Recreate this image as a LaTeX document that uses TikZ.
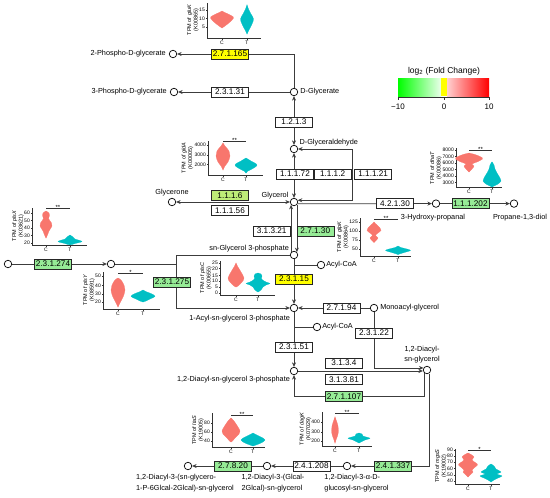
\documentclass[tikz,border=0pt]{standalone}
\usepackage{fontspec}
\setmainfont{Liberation Sans}
\usetikzlibrary{arrows.meta}
\usetikzlibrary{positioning}

\definecolor{cred}{RGB}{248,118,109}
\definecolor{cteal}{RGB}{0,191,196}
\definecolor{ecgreen}{RGB}{150,235,150}
\definecolor{ecygreen}{RGB}{190,235,120}
\definecolor{ecyellow}{RGB}{255,255,0}
\definecolor{linegray}{RGB}{60,60,60}

\tikzset{
  met/.style={circle, draw=black, fill=white, line width=0.7pt, inner sep=0pt, minimum size=7.5pt},
  ec/.style={draw=black!85, fill=white, line width=0.6pt, font=\fontsize{8.2}{9}\selectfont,
    minimum width=37pt, minimum height=10pt, inner sep=0.5pt},
  lbl/.style={font=\fontsize{7.3}{8}\selectfont, inner sep=0pt},
  conn/.style={draw=linegray, line width=0.75pt},
  arr/.style={conn, -{Stealth[length=4.5pt,width=4pt]}},
  both/.style={conn, {Stealth[length=4.5pt,width=4pt]}-{Stealth[length=4.5pt,width=4pt]}},
  axisline/.style={draw=black!80, line width=0.4pt},
  tick/.style={font=\fontsize{5}{6}\selectfont, inner sep=0.5pt},
  vtitle/.style={font=\fontsize{5.5}{6.5}\selectfont, align=center, inner sep=0pt, rotate=90},
  stars/.style={font=\fontsize{6}{6}\selectfont, inner sep=0pt},
  leg/.style={font=\fontsize{8}{9}\selectfont, inner sep=0pt}
}

% frame of a violin plot: name, axis x, top, bottom, right end, C x, T x, ticks
\newcommand{\vframe}[8]{%
  \draw[axisline] (#2,#3) -- (#2,#4) -- (#5,#4);
  \draw[axisline] (#6,#4) -- ++(0,1.5) (#7,#4) -- ++(0,1.5);
  \node[tick, anchor=north] (#1c) at (#6,{#4+2}) {C};
  \node[tick, anchor=north] (#1t) at (#7,{#4+2}) {T};
  \foreach \tv/\ty in {#8}{%
    \draw[axisline] (#2,\ty) -- ++(-1.5,0);
    \node[tick, anchor=east] (#1y\tv) at ({#2-1.5},\ty) {\tv};}%
}
\newcommand{\vtitle}[4]{\node[vtitle, anchor=south] (#1) at (#2,#3) {#4};}
% one violin, mirrored around its centre
\newcommand{\violin}[3]{%
  \foreach \s in {1,-1}{\filldraw[#1, line width=0.2pt, shift={(#2,0)}, xscale=\s]
    plot[smooth, tension=0.6] coordinates {#3} -- cycle;}}
\newcommand{\sigbar}[5]{%
  \draw[axisline] (#2,#4) -- (#3,#4);
  \node[stars, anchor=south] (#1) at ({(#2+#3)/2},{#4+2}) {#5};}

\begin{document}
\begin{tikzpicture}[x=1pt, y=-1pt]
\useasboundingbox (0,0) rectangle (550,498);

% metabolites
\node[met] (p2g) at (173,54) {};
\node[met] (p3g) at (174,92) {};
\node[met] (dglyc) at (294,92) {};
\node[met] (dgald) at (294,149) {};
\node[met] (glyc) at (294,202) {};
\node[met] (glyce) at (172,202) {};
\node[met] (hpa) at (436,203.6) {};
\node[met] (pdo) at (514,203.6) {};
\node[met] (g3p) at (294,255) {};
\node[met] (src) at (8,264) {};
\node[met] (acp) at (111,264) {};
\node[met] (acoa1) at (321,265) {};
\node[met] (lpa) at (294,308) {};
\node[met] (mag) at (374,308) {};
\node[met] (acoa2) at (317,327) {};
\node[met] (pa) at (294,371) {};
\node[met] (dag) at (427,370) {};
\node[met] (mgdg) at (347,466) {};
\node[met] (dgdg) at (267,466) {};
\node[met] (lta) at (188,466) {};
\coordinate (loopc) at (352,149);
\coordinate (cnr) at (176,308);
\coordinate (kin) at (344,396.5);

% reactions
\draw[arr] (dglyc) |- (p2g);
\draw[arr] (dglyc) -- (p3g);
\draw[both] (dglyc) -- (dgald);
\draw[both] (dgald) -- (glyc);
\draw[both] (dgald) -- (loopc) |- (glyc.25);
\draw[both] (glyc) -- (glyce);
\draw[arr] (glyc.-25) -- (hpa);
\draw[arr] (hpa) -- (pdo);
\draw[arr] (g3p.135) -- (glyc.-135);
\draw[arr] (glyc.-45) -- (g3p.45);
\draw[arr] (src) -- (acp);
\draw[arr] (g3p) -| (cnr) -- (lpa);
\draw[conn] (acp) -- (acp -| cnr);
\draw[arr] (g3p) -- (lpa);
\draw[conn] (g3p |- acoa1) -- (acoa1);
\draw[arr] (mag) -- (lpa);
\draw[arr] (mag) |- (dag.150);
\draw[arr] (lpa) -- (pa);
\draw[conn] (lpa |- acoa2) -- (acoa2);
\draw[arr] (pa) -- (pa -| dag.west);
\draw[arr] (dag.-135) |- (kin) -| (pa);
\draw[arr] (dag.-60) |- (mgdg);
\draw[arr] (mgdg) -- (dgdg);
\draw[arr] (dgdg) -- (lta);

% enzymes
\node[ec, fill=ecyellow] (e27165) at (230,54) {2.7.1.165};
\node[ec] (e23131) at (230,92) {2.3.1.31};
\node[ec] (e1213) at (294,122) {1.2.1.3};
\node[ec] (e11172) at (295,174) {1.1.1.72};
\node[ec, right=0pt of e11172] (e1112) {1.1.1.2};
\node[ec, right=3pt of e1112] (e11121) {1.1.1.21};
\node[ec, fill=ecygreen] (e1116) at (230,195.5) {1.1.1.6};
\node[ec, below=4.5pt of e1116] (e11156) {1.1.1.56};
\node[ec] (e42130) at (395,203.6) {4.2.1.30};
\node[ec, fill=ecgreen] (e111202) at (470.5,203.6) {1.1.1.202};
\node[ec, anchor=east] (e31321) at (290.5,231) {3.1.3.21};
\node[ec, fill=ecgreen, right=6pt of e31321] (e27130) {2.7.1.30};
\node[ec, fill=ecgreen] (e231274) at (53,264) {2.3.1.274};
\node[ec, fill=ecgreen] (e231275) at (172,282) {2.3.1.275};
\node[ec, fill=ecyellow] (e23115) at (294,279) {2.3.1.15};
\node[ec] (e27194) at (341.5,308) {2.7.1.94};
\node[ec] (e23122) at (374,333) {2.3.1.22};
\node[ec] (e23151) at (294,347) {2.3.1.51};
\node[ec] (e3134) at (344,363) {3.1.3.4};
\node[ec] (e31381) at (344,379.5) {3.1.3.81};
\node[ec, fill=ecgreen] (e27107) at (kin) {2.7.1.107};
\node[ec, fill=ecgreen] (e241337) at (393,466) {2.4.1.337};
\node[ec] (e241208) at (311.5,466) {2.4.1.208};
\node[ec, fill=ecgreen] (e27820) at (233,466) {2.7.8.20};

% metabolite names
\node[lbl, left=3pt of p2g] (p2gl) {2-Phospho-D-glycerate};
\node[lbl, left=3pt of p3g] (p3gl) {3-Phospho-D-glycerate};
\node[lbl, right=2pt of dglyc] (dglycl) {D-Glycerate};
\node[lbl, above right=0pt and 2.5pt of dgald] (dgaldl) {D-Glyceraldehyde};
\node[lbl, above left=0pt and 2.5pt of glyc] (glycl) {Glycerol};
\node[lbl, above=1.5pt of glyce] (glycel) {Glycerone};
\node[lbl, below=6pt of hpa, xshift=-3pt] (hpal) {3-Hydroxy-propanal};
\node[lbl, below=6pt of pdo, xshift=6pt] (pdol) {Propane-1,3-diol};
\node[lbl, above left=0pt and 2pt of g3p] (g3pl) {sn-Glycerol 3-phosphate};
\node[lbl, right=1pt of acoa1] (acoa1l) {Acyl-CoA};
\node[lbl, below left=4pt and 1pt of lpa] (lpal) {1-Acyl-sn-glycerol 3-phosphate};
\node[lbl, right=2pt of mag] (magl) {Monoacyl-glycerol};
\node[lbl, right=1pt of acoa2] (acoa2l) {Acyl-CoA};
\node[lbl, below left=2pt and 1pt of pa] (pal) {1,2-Diacyl-sn-glycerol 3-phosphate};
\node[lbl, align=center, font=\fontsize{7.3}{10}\selectfont, above=3pt of dag, xshift=-5pt] (dagl) {1,2-Diacyl-\\sn-glycerol};
\node[lbl, align=left, font=\fontsize{7.3}{11.5}\selectfont, below=3.5pt of mgdg, xshift=9.5pt] (mgdgl) {1,2-Diacyl-3-α-D-\\glucosyl-sn-glycerol};
\node[lbl, align=left, font=\fontsize{7.3}{11.5}\selectfont, below=3.5pt of dgdg, xshift=6pt] (dgdgl) {1,2-Diacyl-3-(Glcal-\\2Glcal)-sn-glycerol};
\node[lbl, align=left, font=\fontsize{7.3}{11.5}\selectfont, below=3.5pt of lta, xshift=-3pt] (ltal) {1,2-Diacyl-3-(sn-glycero-\\1-P-6Glcal-2Glcal)-sn-glycerol};

% violin plots
\vframe{gluk}{207}{3}{38}{261}{222}{247}{15/10,10/18.5,5/27}
\vtitle{glukt}{199}{20}{TPM of \textit{gluK}\\(K00865)}
\violin{cred}{222}{(0,11) (4,13) (10,16) (11.5,18) (8,22) (3,26) (0,28)}
\violin{cteal}{247}{(0,5) (1.5,9) (4,14) (6.5,19) (5,24) (2.5,29) (1,32) (0,34)}

\vframe{glda}{208}{141}{175}{263}{223}{246}{4000/145,3000/155,2000/164.5}
\vtitle{gldat}{193.5}{158}{TPM of \textit{gldA}\\(K00005)}
\violin{cred}{223}{(0,143) (2,146) (6,151) (7,156) (5,162) (2,166) (0,170)}
\violin{cteal}{246}{(0,158) (5,161) (11,165) (6,169) (2,171) (0,173)}
\sigbar{gldas}{223}{246}{141}{**}

\vframe{plsx}{32}{208}{245}{87}{46}{70}{60/213,50/220.5,40/228,30/235.5,20/243}
\vtitle{plsxt}{24}{226}{TPM of \textit{plsX}\\(K03621)}
\violin{cred}{46}{(0,211) (3,213) (3.5,215.5) (2.5,218.5) (5.5,223) (6,226) (3,231) (1.5,235) (0,238)}
\violin{cteal}{70}{(0,235) (3,237) (5,239) (12,241.5) (5,243.5) (2,244.5) (0,244.8)}
\sigbar{plsxs}{46}{70}{208}{**}

\vframe{plsy}{103}{272}{309}{160}{118}{143}{50/276,40/285.5,30/294,20/302}
\vtitle{plsyt}{95}{290}{TPM of \textit{plsY}\\(K08591)}
\violin{cred}{118}{(0,278) (3,280) (6,285) (7,290) (5.5,296) (3,301) (1,305) (0,307)}
\violin{cteal}{143}{(0,290) (4,292) (9,294) (12,296.5) (7,299) (3,301) (0,302)}
\sigbar{plsys}{118}{143}{273}{*}

\vframe{plsc}{220}{261}{295}{275}{236}{258}{25/263,20/268.5,15/275.5,10/281,5/287,0/293}
\vtitle{plsct}{212}{278}{TPM of \textit{plsC}\\(K00655)}
\violin{cred}{236}{(0,263) (2,267) (5,272) (8,278) (6,282) (2,286) (0,287)}
\violin{cteal}{258}{(0,273) (3,274) (4,276) (3.5,279) (8,282) (12,283.5) (8,285) (5,287) (3,290) (0,292)}

\vframe{glpk}{360}{218}{256}{411}{374}{398}{125/222,100/231,75/240,50/249}
\vtitle{glpkt}{349}{237}{TPM of \textit{glpK}\\(K00864)}
\violin{cred}{374}{(0,222) (2,224) (6,228) (7,230.5) (4,233) (1.5,235.5) (4,238) (1.5,241) (0,242.5)}
\violin{cteal}{398}{(0,246) (3,247.5) (9,249) (12.5,250.5) (8,252) (3,253.5) (0,254.5)}
\sigbar{glpks}{374}{398}{219}{**}

\vframe{dhat}{456}{148}{187}{502}{469}{492}{8000/150,7000/156.5,6000/163,5000/169.5,4000/176,3000/182.5}
\vtitle{dhatt}{442}{168}{TPM of \textit{dhaT}\\(K00086)}
\violin{cred}{469}{(0,153) (6,154.5) (12,157) (13.5,159) (8,162) (3,164) (5,166) (3,169) (0,172)}
\violin{cteal}{492}{(0,162) (2,165) (3,169) (5,173) (8,178) (9,181) (6,184) (2,186) (0,187)}
\sigbar{dhats}{469}{492}{150}{**}

\vframe{mgss}{455}{449}{484}{500}{468}{491}{90/450,80/456,70/462,60/468.5,50/475,40/481}
\vtitle{mgsst}{447}{466}{TPM of \textit{mgsS}\\(K19002)}
\violin{cred}{468}{(0,453) (3,454.5) (6,457) (4,460) (8,463) (9.5,465) (6,468) (4,470) (5,472) (2,475) (0,477)}
\violin{cteal}{491}{(0,464) (3,466) (5,469) (10,472) (6,474) (11,476) (7,478) (3,480) (0,482)}
\sigbar{mgsss}{468}{491}{450}{*}

\vframe{ltas}{212}{413}{447}{265}{231}{253}{80/423,60/432,40/441}
\vtitle{ltast}{204}{430}{TPM of \textit{ltaS}\\(K19005)}
\violin{cred}{231}{(0,418) (3,421) (7,427) (9,431) (8,434) (4,438) (1.5,441) (0,442)}
\violin{cteal}{253}{(0,433) (4,435) (8,437) (12,440) (8,443) (3,445) (0,446)}
\sigbar{ltass}{231}{253}{415}{**}

\vframe{dagk}{322}{412}{446}{372}{335}{359}{400/422,300/432,200/441}
\vtitle{dagkt}{311.5}{429}{TPM of \textit{dagK}\\(K07029)}
\violin{cred}{335}{(0,417) (1.5,421) (3,426) (3.5,431) (2.5,436) (1,440) (0,443)}
\violin{cteal}{359}{(0,433) (3,434) (4,436) (9,437.5) (11,438.5) (6,440) (3,441.5) (0,443)}
\sigbar{dagks}{335}{359}{413}{**}

% colour key
\node[leg, font=\fontsize{8.5}{9}\selectfont] (legt) at (444,71) {log\textsubscript{2} (Fold Change)};
\shade[left color=green, right color=green!8] (398,78) rectangle (441,96);
\fill[ecyellow] (441,78) rectangle (447,96);
\shade[left color=red!18, right color=red] (447,78) rectangle (489,96);
\draw[axisline] (398,97) -- (489,97);
\foreach \kx in {398,444,489} \draw[axisline] (\kx,97) -- ++(0,2.5);
\node[leg, anchor=north] (legm) at (398,104) {−10};
\node[leg, anchor=north] (legz) at (444,104) {0};
\node[leg, anchor=north] (legp) at (489,104) {10};
\end{tikzpicture}
\end{document}
